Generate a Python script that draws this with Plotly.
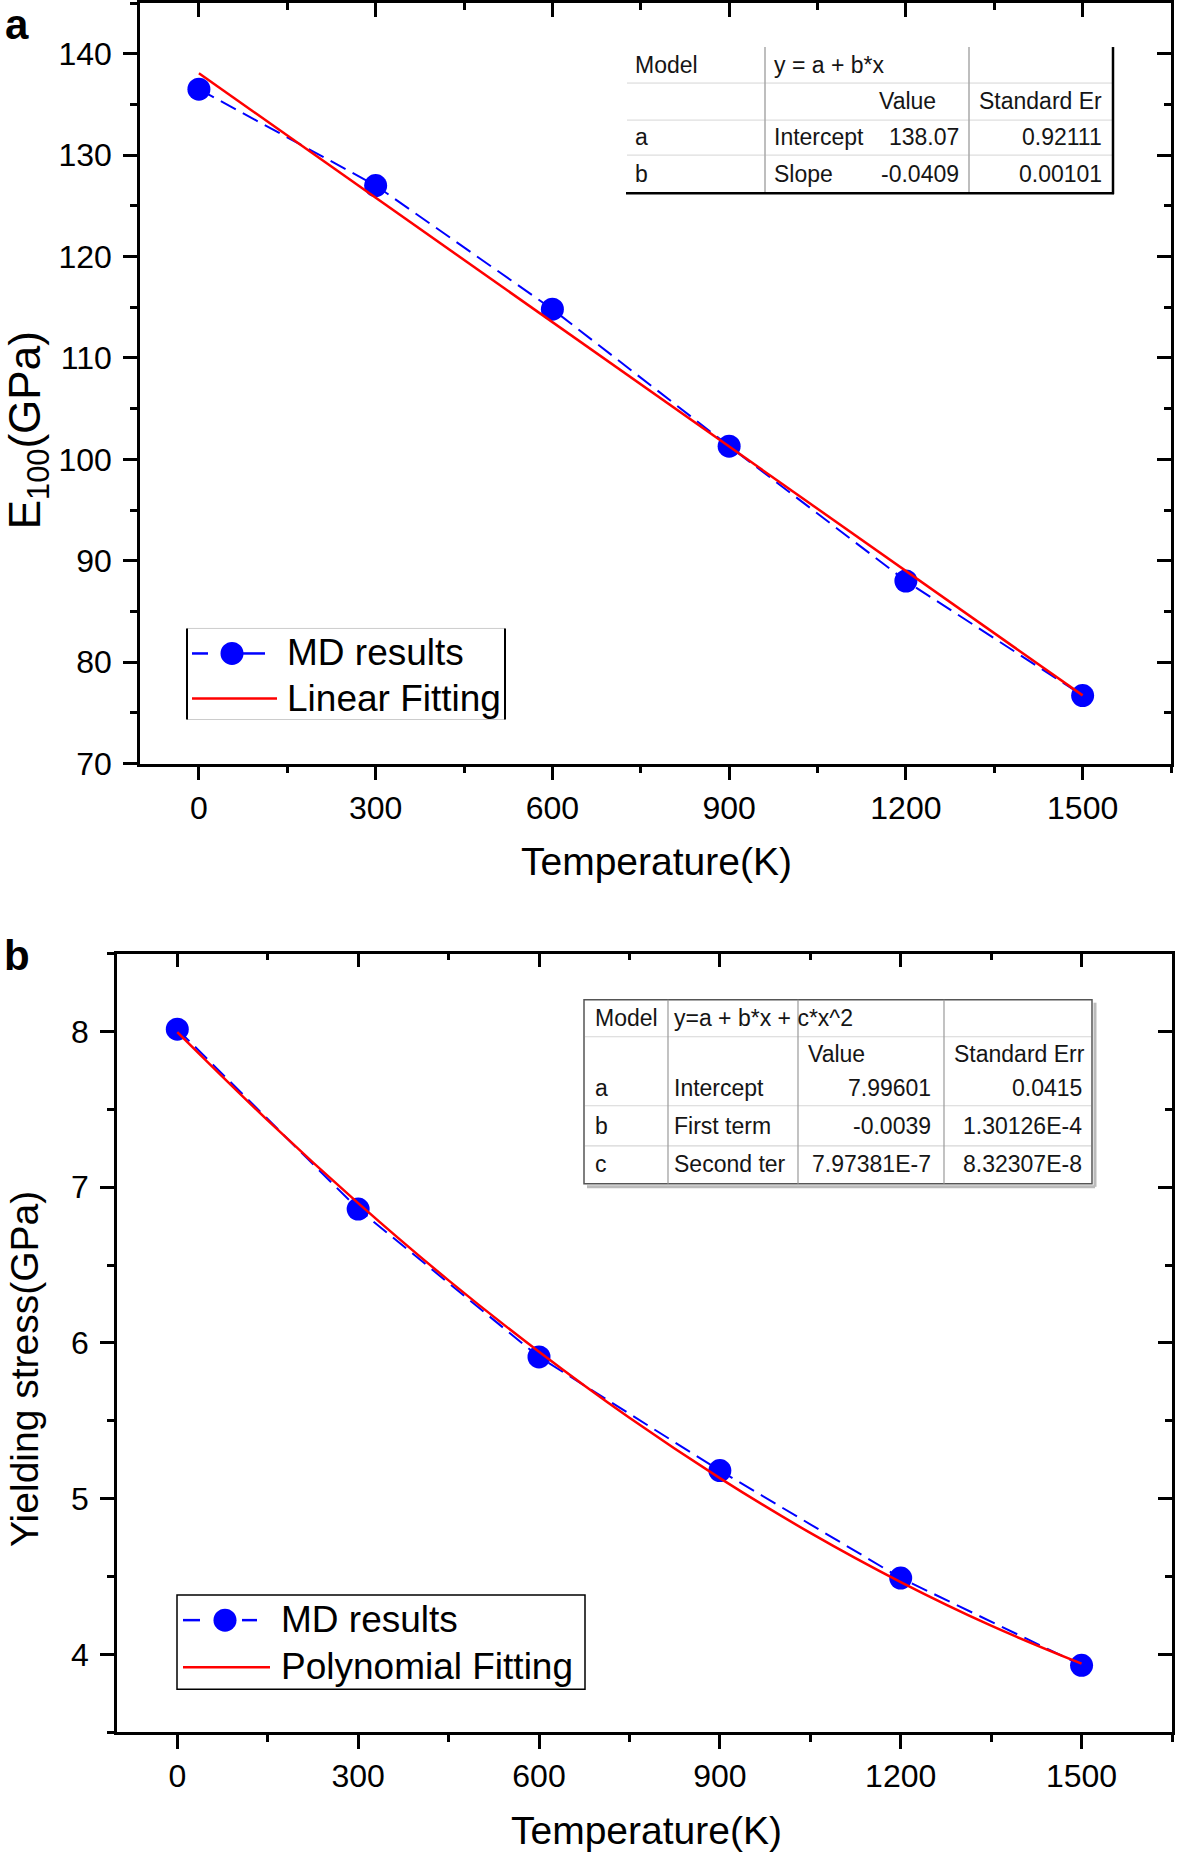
import plotly.graph_objects as go

W, H = 1181, 1856
K = 1.0105  # vertical compensation measured from the rendered page
FONT = "Arial, Liberation Sans, sans-serif"

# ---------------- data ----------------
temps = [0, 300, 600, 900, 1200, 1500]
modulus_md = [136.5, 127.0, 114.8, 101.3, 88.0, 76.7]
linear_fit_T = [0, 1500]
linear_fit_E = [138.07, 76.72]

stress_md = [8.015, 6.86, 5.91, 5.18, 4.49, 3.93]
poly_fit_T = [0, 150, 300, 450, 600, 750, 900, 1050, 1200, 1350, 1500]
poly_fit_S = [7.996, 7.429, 6.898, 6.402, 5.943, 5.519, 5.132, 4.780, 4.464, 4.184, 3.940]

x_ticks = [0, 300, 600, 900, 1200, 1500]
ya_ticks = [70, 80, 90, 100, 110, 120, 130, 140]
yb_ticks = [4, 5, 6, 7, 8]

table_a = [
    ["Model", "y = a + b*x", "", ""],
    ["", "", "Value", "Standard Er"],
    ["a", "Intercept", "138.07", "0.92111"],
    ["b", "Slope", "-0.0409", "0.00101"],
]
table_b = [
    ["Model", "y=a + b*x + c*x^2", "", ""],
    ["", "", "Value", "Standard Err"],
    ["a", "Intercept", "7.99601", "0.0415"],
    ["b", "First term", "-0.0039", "1.30126E-4"],
    ["c", "Second ter", "7.97381E-7", "8.32307E-8"],
]
legend_a = ["MD results", "Linear Fitting"]
legend_b = ["MD results", "Polynomial Fitting"]


def X(p):
    return p / W


def Y(p):
    return 1 - p * K / H


BLUE = "rgb(0,0,255)"
RED = "rgb(255,0,0)"
DASH = "17px,8px"

fig = go.Figure()

# panel a
fig.add_trace(go.Scatter(x=temps, y=modulus_md, mode="lines+markers",
                         line=dict(color=BLUE, width=2, dash=DASH),
                         marker=dict(color=BLUE, size=23, line=dict(width=0)),
                         xaxis="x", yaxis="y", showlegend=False))
fig.add_trace(go.Scatter(x=linear_fit_T, y=linear_fit_E, mode="lines",
                         line=dict(color=RED, width=2.5),
                         xaxis="x", yaxis="y", showlegend=False))
# panel b
fig.add_trace(go.Scatter(x=temps, y=stress_md, mode="lines+markers",
                         line=dict(color=BLUE, width=2, dash=DASH),
                         marker=dict(color=BLUE, size=23, line=dict(width=0)),
                         xaxis="x2", yaxis="y2", showlegend=False))
fig.add_trace(go.Scatter(x=poly_fit_T, y=poly_fit_S, mode="lines",
                         line=dict(color=RED, width=2.5, shape="spline"),
                         xaxis="x2", yaxis="y2", showlegend=False))
# dummy traces for mirrored axes
fig.add_trace(go.Scatter(x=[None], y=[None], xaxis="x3", yaxis="y3", showlegend=False))
fig.add_trace(go.Scatter(x=[None], y=[None], xaxis="x4", yaxis="y4", showlegend=False))

LW = 2.5
common = dict(showgrid=False, zeroline=False, showline=True, linecolor="black",
              linewidth=LW, tickcolor="black", tickwidth=LW, ticklen=14,
              tickfont=dict(family=FONT, size=32, color="black"))

xa_dom = [X(140), X(1171)]
ya_dom = [Y(763), Y(3)]
xb_dom = [X(117), X(1172)]
yb_dom = [Y(1731), Y(953)]
xr = [-100, 1650]


def xax(dom, anchor, ticks, labels=True, **kw):
    d = dict(common, domain=dom, range=xr, anchor=anchor, ticks=ticks,
             tickmode="array", tickvals=x_ticks, ticktext=[str(v) for v in x_ticks],
             showticklabels=labels,
             minor=dict(ticks=ticks, ticklen=7, tickwidth=LW, tickcolor="black",
                        tick0=0, dtick=150))
    d.update(kw)
    return d


def yax(dom, anchor, ticks, rng, vals, mdt, labels=True, **kw):
    d = dict(common, domain=dom, range=rng, anchor=anchor, ticks=ticks,
             tickmode="array", tickvals=vals, ticktext=[str(v) for v in vals],
             showticklabels=labels,
             minor=dict(ticks=ticks, ticklen=7, tickwidth=LW, tickcolor="black",
                        tick0=0, dtick=mdt))
    d.update(kw)
    return d


fig.update_layout(
    width=W, height=H, margin=dict(l=0, r=0, t=0, b=0),
    paper_bgcolor="white", plot_bgcolor="white",
    xaxis=xax(xa_dom, "y", "outside"),
    yaxis=yax(ya_dom, "x", "outside", [70, 145], ya_ticks, 5, ticklabelstandoff=5),
    xaxis2=xax(xb_dom, "y2", "outside"),
    yaxis2=yax(yb_dom, "x2", "outside", [3.5, 8.5], yb_ticks, 0.5, ticklabelstandoff=5),
    xaxis3=xax(xa_dom, "y", "inside", labels=False, overlaying="x", side="top"),
    yaxis3=yax(ya_dom, "x", "inside", [70, 145], ya_ticks, 5, labels=False,
               overlaying="y", side="right"),
    xaxis4=xax(xb_dom, "y2", "inside", labels=False, overlaying="x2", side="top"),
    yaxis4=yax(yb_dom, "x2", "inside", [3.5, 8.5], yb_ticks, 0.5, labels=False,
               overlaying="y2", side="right"),
)

shapes = []
ann = []


def line(x0, y0, x1, y1, color, width, dash=None):
    d = dict(type="line", xref="paper", yref="paper", x0=X(x0), y0=Y(y0),
             x1=X(x1), y1=Y(y1), line=dict(color=color, width=width))
    if dash:
        d["line"]["dash"] = dash
    shapes.append(d)


def circle(cx, cy, r, color):
    shapes.append(dict(type="circle", xref="paper", yref="paper",
                       x0=X(cx - r), x1=X(cx + r), y0=Y(cy + r), y1=Y(cy - r),
                       fillcolor=color, line=dict(width=0)))


def text(s, x, y, size, anchor="left", angle=0, bold=False, color="black", yanchor="middle"):
    ann.append(dict(text=("<b>%s</b>" % s) if bold else s, xref="paper", yref="paper",
                    x=X(x), y=Y(y), xanchor=anchor, yanchor=yanchor,
                    showarrow=False, textangle=angle, borderpad=0,
                    font=dict(family=FONT, size=size, color=color)))


# ---- axis titles and panel labels ----
text("Temperature(K)", 656, 861, 39, "center")
text("E<sub>100</sub>(GPa)", 28, 430, 44, "center", angle=-90)
text("Temperature(K)", 647, 1829, 39, "center")
text("Yielding stress(GPa)", 25, 1368, 39, "center", angle=-90)
text("a", 17, 0, 42, "center", bold=True, yanchor="top")
text("b", 17, 930, 42, "center", bold=True, yanchor="top")

# ---- legend a ----
line(187, 628, 505, 628, "#cccccc", 1)
line(187, 719, 505, 719, "#cccccc", 1)
line(187, 628, 187, 719, "black", 2)
line(505, 628, 505, 719, "black", 2)
line(192, 653, 208, 653, BLUE, 2.5)
line(240, 653, 265, 653, BLUE, 2.5)
circle(232, 653, 11.5, BLUE)
line(192, 698, 277, 698, RED, 2.5)
text(legend_a[0], 286, 652, 37)
text(legend_a[1], 286, 698, 37)

# ---- legend b ----
shapes.append(dict(type="rect", xref="paper", yref="paper", x0=X(177), x1=X(585),
                   y0=Y(1688), y1=Y(1594), line=dict(color="black", width=1.5)))
line(183, 1619, 200, 1619, BLUE, 2.5)
line(242, 1619, 257, 1619, BLUE, 2.5)
circle(225, 1619, 11.5, BLUE)
line(183, 1666, 270, 1666, RED, 2.5)
text(legend_b[0], 280, 1618, 37)
text(legend_b[1], 280, 1665, 37)

# ---- table a ----
TA_rows = [65, 101, 137, 174]
for yy in [83, 120, 155]:
    line(627, yy, 1112, yy, "#d6d6d6", 1)
line(765, 47, 765, 193, "#a8a8a8", 1.5)
line(969, 47, 969, 193, "#a8a8a8", 1.5)
line(1113, 47, 1113, 194, "black", 2.5)
line(626, 193, 1114, 193, "black", 2.5)
cols_a = [(634, "left"), (773, "left"), (960, "right"), (1103, "right")]
for r, row in enumerate(table_a):
    for c, s in enumerate(row):
        if not s:
            continue
        xx, anc = cols_a[c]
        if r == 1 and c == 2:
            xx = 937
        text(s, xx, TA_rows[r], 23, anc, color="#151515")

# ---- table b ----
line(1095, 1002, 1095, 1186, "#bbbbbb", 3)
line(587, 1186, 1095, 1186, "#bbbbbb", 3)
shapes.append(dict(type="rect", xref="paper", yref="paper", x0=X(584), x1=X(1092),
                   y0=Y(1183), y1=Y(999), line=dict(color="#555555", width=1.5),
                   fillcolor="rgba(0,0,0,0)"))
for yy in [1036, 1105, 1145]:
    line(585, yy, 1091, yy, "#d6d6d6", 1.2)
for xx in [668, 798, 944]:
    line(xx, 999, xx, 1183, "#9a9a9a", 1.2)
TB_rows = [1017, 1053, 1087, 1125, 1163]
cols_b = [(594, "left"), (673, "left"), (932, "right"), (1083, "right")]
for r, row in enumerate(table_b):
    for c, s in enumerate(row):
        if not s:
            continue
        xx, anc = cols_b[c]
        if r == 1 and c == 2:
            xx, anc = 807, "left"
        if r == 1 and c == 3:
            xx, anc = 953, "left"
        text(s, xx, TB_rows[r], 23, anc, color="#151515")

fig.update_layout(shapes=shapes, annotations=ann)
fig.write_html(
    "out.html",
    config={"displayModeBar": False, "responsive": False},
    post_script=("document.documentElement.style.margin='0';"
                 "document.documentElement.style.overflow='hidden';"
                 "document.body.style.margin='0';document.body.style.padding='0';"
                 "document.body.style.overflow='hidden';"),
)
